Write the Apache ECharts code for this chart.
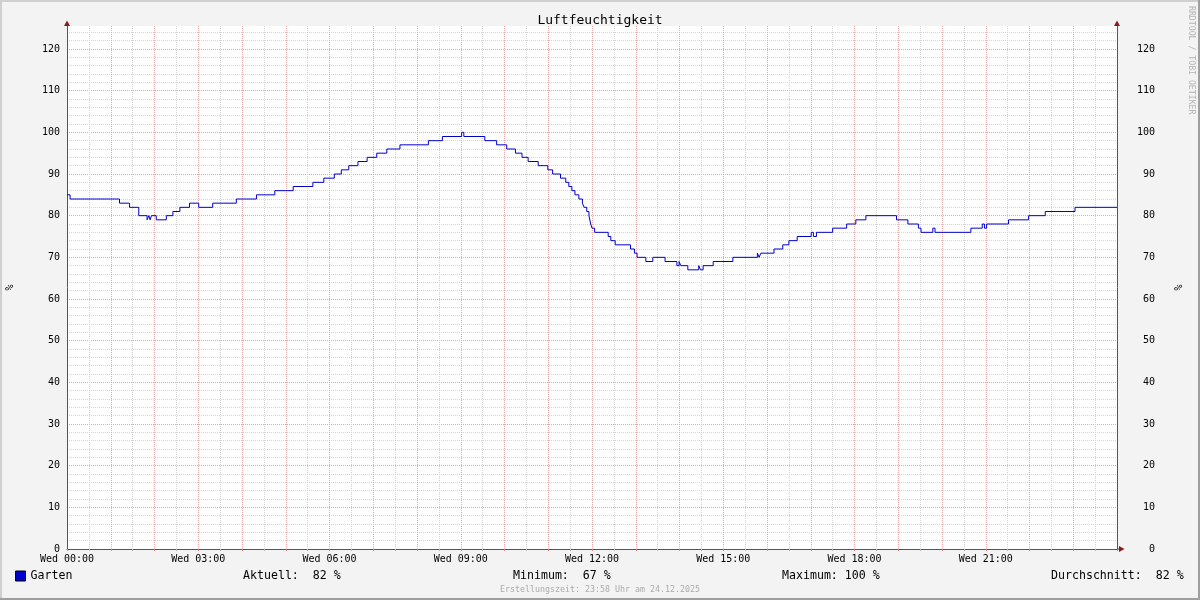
<!DOCTYPE html>
<html>
<head>
<meta charset="utf-8">
<script src="https://cdn.jsdelivr.net/npm/echarts@6/dist/echarts.min.js"></script>
<style>
html,body{margin:0;padding:0;background:#f3f3f3;}
#chart{width:1200px;height:600px;}
</style>
</head>
<body>
<div id="chart"></div>
<script>
// ---- data (hours since Wed 00:00, value that starts at that time) ----
const hours = [
  0, 0.07, 1.2, 1.43, 1.64, 1.83, 1.87, 1.90, 1.93, 2.04, 2.27, 2.42, 2.58, 2.80, 3.01, 3.33, 3.87,
  4.33, 4.75, 5.17, 5.62, 5.87, 6.11, 6.27, 6.44, 6.65, 6.86, 7.08, 7.31, 7.61, 8.26, 8.58,
  9.02, 9.07, 9.55, 9.82, 10.05, 10.25, 10.40, 10.54, 10.77, 10.99, 11.10, 11.28, 11.40,
  11.47, 11.54, 11.61, 11.70, 11.78, 11.82, 11.88, 11.93, 11.97, 12.00, 12.06, 12.37, 12.43,
  12.53, 12.88, 12.97, 13.03, 13.23, 13.39, 13.67, 13.94, 13.99, 14.03, 14.19, 14.44, 14.48,
  14.54, 14.77, 15.22, 15.78, 15.82, 15.86, 16.16, 16.36, 16.50, 16.69, 17.01, 17.06, 17.13,
  17.50, 17.82, 18.03, 18.26, 18.96, 19.22, 19.46, 19.52, 19.79, 19.84, 20.66, 20.92, 20.97,
  21.02, 21.52, 21.98, 22.36, 23.04, 24.0
];
const humidity = [
  85, 84, 83, 82, 80, 79, 80, 79, 80, 79, 80, 81, 82, 83, 82, 83, 84,
  85, 86, 87, 88, 89, 90, 91, 92, 93, 94, 95, 96, 97, 98, 99,
  100, 99, 98, 97, 96, 95, 94, 93, 92, 91, 90, 89, 88,
  87, 86, 85, 84, 83, 82, 81, 80, 78, 77, 76, 75, 74,
  73, 72, 71, 70, 69, 70, 69, 68, 69, 68, 67, 68, 67,
  68, 69, 70, 71, 70, 71, 72, 73, 74, 75, 76, 75, 76,
  77, 78, 79, 80, 79, 78, 77, 76, 77, 76, 77, 78, 77,
  78, 79, 80, 81, 82, 82
];
const seriesName = 'Garten';
const xTickHours = [0, 3, 6, 9, 12, 15, 18, 21];
const xTickLabels = ['Wed 00:00', 'Wed 03:00', 'Wed 06:00', 'Wed 09:00', 'Wed 12:00', 'Wed 15:00', 'Wed 18:00', 'Wed 21:00'];
const yTickLabels = [0, 10, 20, 30, 40, 50, 60, 70, 80, 90, 100, 110, 120];
const statLabels = ['Aktuell:  82 %', 'Minimum:  67 %', 'Maximum: 100 %', 'Durchschnitt:  82 %'];
const titleText = 'Luftfeuchtigkeit';
const footerText = 'Erstellungszeit: 23:58 Uhr am 24.12.2025';
const watermark = 'RRDTOOL / TOBI OETIKER';
const unitLabel = '%';

const FONT = '"DejaVu Sans Mono", "Liberation Mono", monospace';
const RED = '#eaa8a8';
const GRAY = '#d4d4d4';
const AXIS = '#555555';
const ARROW = '#8b1a1a';

const data = hours.map((h, i) => [h, humidity[i]]);
const chart = echarts.init(document.getElementById('chart'), null, {renderer: 'canvas'});
const yLabelFmt = v => (yTickLabels.indexOf(v) >= 0 ? String(v) : '');
const xLabelFmt = v => {
  const i = xTickHours.indexOf(Math.round(v * 100) / 100);
  return i >= 0 ? xTickLabels[i] : '';
};
const statX = [243, 513, 782, 1051];
const YMAX = 125.52;
const dotted = c => ({color: c, type: [1, 1], width: 1});

chart.setOption({
  animation: false,
  backgroundColor: '#f3f3f3',
  title: {text: titleText, left: 'center', top: 9, textStyle: {fontFamily: FONT, fontSize: 13, fontWeight: 'normal', color: '#000'}},
  legend: {
    left: 15, top: 570, itemWidth: 10, itemHeight: 10, itemGap: 5, icon: 'rect',
    data: [{name: seriesName, itemStyle: {color: '#0000cc', borderColor: '#000', borderWidth: 1}}],
    textStyle: {fontFamily: FONT, fontSize: 11.6, color: '#000', padding: [0, 0, 0, 0]},
    padding: 0, selectedMode: false
  },
  grid: {left: 67, right: 83, top: 26, bottom: 51, show: true, backgroundColor: '#ffffff', borderWidth: 0, containLabel: false, outerBoundsMode: 'none'},
  xAxis: [{
    // half-hour grid (gray)
    type: 'value', min: 0, max: 24, interval: 0.5, position: 'bottom',
    axisLine: {show: false},
    axisTick: {show: true, length: 2, lineStyle: {color: '#bbbbbb'}},
    axisLabel: {show: false},
    splitLine: {show: true, showMinLine: false, showMaxLine: false, lineStyle: dotted(GRAY)}
  }, {
    // hourly grid (red)
    type: 'value', min: 0, max: 24, interval: 1, position: 'bottom',
    axisLine: {show: false},
    axisTick: {show: true, length: 2, lineStyle: {color: '#d48a8a'}},
    axisLabel: {show: false},
    splitLine: {show: true, showMinLine: false, showMaxLine: false, lineStyle: dotted(RED)}
  }, {
    // labels every 3 hours + axis line
    type: 'value', min: 0, max: 24, interval: 3, position: 'bottom',
    axisLine: {show: true, onZero: false, lineStyle: {color: AXIS, width: 1}},
    axisTick: {show: false},
    axisLabel: {formatter: xLabelFmt, margin: 5, showMaxLabel: false, hideOverlap: false, fontFamily: FONT, fontSize: 10, color: '#000'},
    splitLine: {show: false}
  }],
  yAxis: [{
    type: 'value', min: 0, max: YMAX, interval: 2, position: 'left',
    axisLine: {show: false}, axisTick: {show: false}, axisLabel: {show: false},
    splitLine: {show: true, showMaxLine: false, lineStyle: dotted(GRAY)}
  }, {
    type: 'value', min: 0, max: YMAX, interval: 10, position: 'left',
    name: unitLabel, nameLocation: 'middle', nameGap: 52, nameRotate: 90,
    nameTextStyle: {fontFamily: FONT, fontSize: 10, color: '#000'},
    axisLine: {show: true, onZero: false, lineStyle: {color: AXIS, width: 1}},
    axisTick: {show: false},
    axisLabel: {formatter: yLabelFmt, margin: 7, showMaxLabel: false, fontFamily: FONT, fontSize: 10, color: '#000'},
    splitLine: {show: true, showMaxLine: false, lineStyle: dotted(RED)}
  }, {
    type: 'value', min: 0, max: YMAX, interval: 10, position: 'right',
    name: unitLabel, nameLocation: 'middle', nameGap: 57, nameRotate: 90,
    nameTextStyle: {fontFamily: FONT, fontSize: 10, color: '#000'},
    axisLine: {show: true, onZero: false, lineStyle: {color: AXIS, width: 1}},
    axisTick: {show: false},
    axisLabel: {formatter: yLabelFmt, margin: 38, align: 'right', showMaxLabel: false, fontFamily: FONT, fontSize: 10, color: '#000'},
    splitLine: {show: false}
  }],
  series: [{
    name: seriesName, type: 'line', step: 'end', data: data, xAxisIndex: 2, yAxisIndex: 1,
    showSymbol: false, symbol: 'none', lineStyle: {color: '#0000cc', width: 1}, itemStyle: {color: '#0000cc'}, z: 5
  }],
  graphic: [
    {type: 'rect', shape: {x: 0, y: 0, width: 1200, height: 2}, style: {fill: '#cfcfcf'}, silent: true},
    {type: 'rect', shape: {x: 0, y: 0, width: 2, height: 600}, style: {fill: '#cfcfcf'}, silent: true},
    {type: 'rect', shape: {x: 0, y: 598, width: 1200, height: 2}, style: {fill: '#9e9e9e'}, silent: true},
    {type: 'rect', shape: {x: 1198, y: 0, width: 2, height: 600}, style: {fill: '#9e9e9e'}, silent: true},
    {type: 'polygon', shape: {points: [[64, 26], [70, 26], [67, 20.5]]}, style: {fill: ARROW}, z: 100, silent: true},
    {type: 'polygon', shape: {points: [[1114, 26], [1120, 26], [1117, 20.5]]}, style: {fill: ARROW}, z: 100, silent: true},
    {type: 'polygon', shape: {points: [[1119, 546], [1119, 552], [1124.5, 549]]}, style: {fill: ARROW}, z: 100, silent: true},
    {type: 'rect', shape: {x: 1117, y: 548.5, width: 2, height: 1}, style: {fill: AXIS}, z: 100, silent: true},
    ...statLabels.map((t, i) => ({type: 'text', left: statX[i], top: 570, style: {text: t, fontFamily: FONT, fontSize: 11.6, fill: '#000'}, silent: true})),
    {type: 'text', left: 'center', top: 586, style: {text: footerText, fontFamily: FONT, fontSize: 8.3, fill: '#ababab'}, silent: true},
    {type: 'text', x: 1195, y: 6, rotation: -Math.PI / 2, style: {text: watermark, fontFamily: FONT, fontSize: 8.2, fill: '#b4b4b4', textAlign: 'left', textVerticalAlign: 'top'}, silent: true}
  ]
});
</script>
</body>
</html>
